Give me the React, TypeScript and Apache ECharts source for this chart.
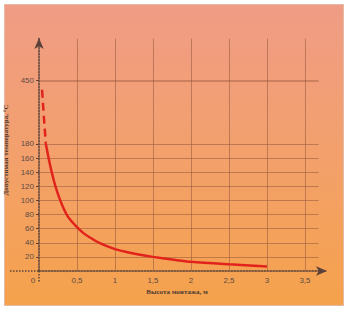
import React, { useEffect, useRef } from "react";
import * as echarts from "echarts";

// Reading of the picture (real units: metres, °C)
const dashedX = [0.04, 0.065, 0.09];
const dashedY = [410, 290, 180];
const curveX = [0.09, 0.11, 0.13, 0.15, 0.17, 0.2, 0.24, 0.28, 0.33, 0.38, 0.44, 0.5, 0.58, 0.67, 0.8, 1.0, 1.15, 1.33, 1.5, 1.8, 2.0, 2.5, 3.0];
const curveY = [180, 169, 158, 148, 139, 126, 112, 100, 87, 77, 69, 62, 54, 47.5, 39.5, 31, 27, 23, 20, 15.5, 13, 9.5, 6.5];
const xTicks = [0, 0.5, 1, 1.5, 2, 2.5, 3, 3.5];
const yTicks = [20, 40, 60, 80, 100, 120, 140, 160, 180, 450];
const yTitle = "Допустимая температура, °С";
const xTitle = "Высота монтажа, м";

// broken y axis: above 180 the scale is compressed 3:1
const BREAK = 180;
const toAxis = (v: number) => (v <= BREAK ? v : BREAK + (v - BREAK) / 3);
const fromAxis = (a: number) => (a <= BREAK ? a : BREAK + (a - BREAK) * 3);

export default function App() {
  const ref = useRef<HTMLDivElement>(null);
  useEffect(() => {
    if (!ref.current) return;
    const chart = echarts.init(ref.current, null, { renderer: "svg" });
    const axisCol = "#5a423a";
    const gridCol = "rgba(150,88,62,0.55)";
    const labelStyle = { fontFamily: "Liberation Sans", fontSize: 8, color: "#5e4b42" };
    const yTickAxis = yTicks.map(toAxis);
    const hLines = yTickAxis.map((a) => [
      { coord: [0, a], lineStyle: { color: gridCol, width: a === toAxis(450) ? 1.6 : 1 } },
      { coord: [3.68, a] },
    ]);
    const vLines = xTicks.filter((x) => x > 0).map((x) => [{ coord: [x, 0] }, { coord: [x, 329] }]);
    chart.setOption({
      animation: false,
      grid: { left: 39, right: 23, top: 38, bottom: 39, containLabel: false, outerBoundsMode: "none" },
      xAxis: {
        type: "value",
        min: 0,
        max: 3.79,
        splitLine: { show: false },
        axisLine: {
          symbol: ["none", "arrow"],
          symbolSize: [7, 11],
          lineStyle: { color: axisCol, width: 1.5, type: "dotted" },
        },
        axisTick: { show: false },
        axisLabel: {
          ...labelStyle,
          margin: 5,
          customValues: xTicks,
          formatter: (v: number) => (v === 0 ? "{z|0}" : String(v).replace(".", ",")),
          rich: { z: { ...labelStyle, padding: [0, 12, 0, 0] } },
        },
        name: xTitle,
        nameLocation: "middle",
        nameGap: 15,
        nameTextStyle: {
          fontFamily: "Liberation Serif",
          fontWeight: "bold",
          fontSize: 7,
          color: "#4d3a32",
          padding: [0, 12, 0, 0],
        },
      },
      yAxis: {
        type: "value",
        min: 0,
        max: 330,
        splitLine: { show: false },
        axisLine: {
          symbol: ["none", "arrow"],
          symbolSize: [7, 11],
          lineStyle: { color: axisCol, width: 1.5, type: "dotted" },
        },
        axisTick: { show: true, customValues: yTickAxis, length: 3, lineStyle: { color: axisCol } },
        axisLabel: {
          ...labelStyle,
          margin: 5,
          customValues: yTickAxis,
          formatter: (a: number) => String(Math.round(fromAxis(a))),
        },
        name: yTitle,
        nameLocation: "middle",
        nameRotate: 90,
        nameGap: 22,
        nameTextStyle: {
          fontFamily: "Liberation Serif",
          fontWeight: "bold",
          fontSize: 7,
          color: "#4d3a32",
          padding: [0, 0, 0, 9],
        },
      },
      series: [
        {
          type: "line",
          data: curveX.map((x, i) => [x, toAxis(curveY[i])]),
          smooth: 0.3,
          showSymbol: false,
          z: 5,
          lineStyle: { color: "#e2231c", width: 2.5 },
          markLine: {
            silent: true,
            symbol: ["none", "none"],
            label: { show: false },
            lineStyle: { color: gridCol, width: 1, type: "solid" },
            z: 1,
            data: [...hLines, ...vLines],
          },
        },
        {
          type: "line",
          data: dashedX.map((x, i) => [x, toAxis(dashedY[i])]),
          showSymbol: false,
          z: 5,
          lineStyle: { color: "#e2231c", width: 2.5, type: [8, 5] },
        },
      ],
    });
    // short extensions of the two axes beyond the origin (crossing axes)
    const o = chart.convertToPixel({ gridIndex: 0 }, [0, 0]) as number[];
    const ext = { stroke: axisCol, lineWidth: 1.5, lineDash: [1.5, 1.5] };
    chart.setOption({
      graphic: [
        { type: "line", z: 10, shape: { x1: 10, y1: o[1], x2: o[0], y2: o[1] }, style: ext },
        { type: "line", z: 10, shape: { x1: o[0], y1: o[1], x2: o[0], y2: o[1] + 12 }, style: ext },
      ],
    });
    return () => chart.dispose();
  }, []);
  return (
    <div style={{ position: "fixed", left: 0, top: 0, width: 350, height: 310, background: "#ffffff" }}>
      <div
        style={{
          position: "absolute",
          left: 4,
          top: 4,
          width: 338,
          height: 300,
          border: "1px solid #e4b9a6",
          background: "linear-gradient(180deg, #f09c86 0%, #f3a06c 50%, #f5a24c 100%)",
        }}
      />
      <div ref={ref} style={{ position: "absolute", left: 0, top: 0, width: 350, height: 310 }} />
    </div>
  );
}
